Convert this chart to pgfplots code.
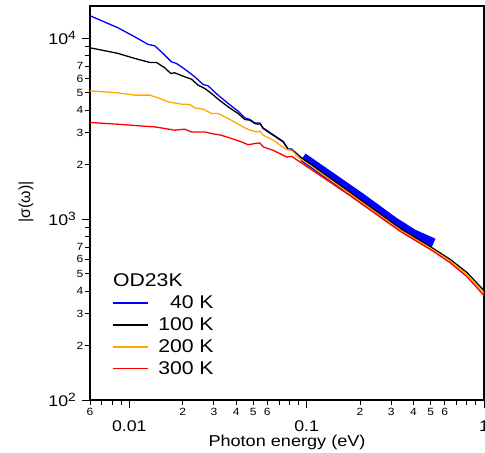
\documentclass[border=0pt]{standalone}
\usepackage{pgfplots}
\pgfplotsset{compat=1.18}
\usepackage{fontspec}
\setmainfont{Liberation Sans}[FakeStretch=1.15]
\newfontfamily\ylabfont{Liberation Sans}
\definecolor{myorange}{RGB}{255,168,0}
\newcommand{\fs}[1]{\fontsize{#1}{#1}\selectfont}
\newcommand{\tenp}[1]{10\raisebox{5bp}{\fs{12}#1}}
\begin{document}
\begin{tikzpicture}
\begin{axis}[
  scale only axis, width=394bp, height=394bp,
  xmode=log, ymode=log,
  xmin=0.006, xmax=1, ymin=100, ymax=15100,
  tick pos=left, tick align=outside,
  axis line style={line width=1.1bp},
  every tick/.style={black, line width=0.9bp},
  major tick length=5bp, minor tick length=5bp,
  /pgf/number format/assume math mode=true,
  xtick={0.006,0.02,0.03,0.04,0.05,0.06,0.2,0.3,0.4,0.5,0.6},
  xticklabels={6,2,3,4,5,6,2,3,4,5,6},
  minor xtick={0.007,0.008,0.009,0.07,0.08,0.09,0.7,0.8,0.9},
  ytick={200,300,400,500,600,700,2000,3000,4000,5000,6000,7000},
  yticklabels={2,3,4,5,6,7,2,3,4,5,6,7},
  minor ytick={800,900,8000,9000},
  xticklabel style={font=\fs{10.5}, anchor=center, inner sep=0pt, yshift=-6.7bp},
  yticklabel style={font=\fs{10.5}, anchor=east, inner sep=0pt, xshift=-1.5bp},
  extra x ticks={0.01,0.1,1},
  extra x tick labels={0.01,0.1,1},
  extra x tick style={major tick length=8bp, xticklabel style={font=\fs{15.5}, yshift=-11.1bp}},
  extra y ticks={100,1000,10000},
  extra y tick labels={\tenp{2},\tenp{3},\tenp{4}},
  extra y tick style={major tick length=8bp, yticklabel style={font=\fs{15.5}, xshift=-4.5bp}},
  xlabel={Photon energy (eV)},
  xlabel style={font=\fs{15.8}, at={(axis description cs:0.5,0)}, anchor=center, yshift=-42.3bp},
  ylabel={\ylabfont |σ(ω)|},
  ylabel style={font=\fs{16}, at={(axis description cs:-0.1624,0.5025)}, anchor=center},
  legend cell align=right,
  legend style={draw=none, fill=none, at={(rel axis cs:0.0558,0.3252)}, anchor=north west,
    inner sep=0pt, outer sep=0pt, font=\fs{18.5}, row sep=3.6bp},
  legend image code/.code={\draw[#1,line width=1.3bp] (0bp,0bp) -- (35bp,0bp); \path (43bp,0bp);},
]
\coordinate (sw) at (rel axis cs:0,0);
\coordinate (ne) at (rel axis cs:1,1);
\addlegendimage{empty legend}
\addlegendentry{\makebox[0pt][r]{OD23K\hspace{31bp}}}
% thick blue band
\addplot[blue, line width=9bp, forget plot] coordinates {
(0.0953,2200) (0.2,1330) (0.3134,965) (0.4,830) (0.52,740)};
% 40 K
\addplot[color=blue, line width=1.3bp] coordinates {
(0.006,13341) (0.008622,11446) (0.010714,10206) (0.012738,9263) (0.0139,9099)
(0.015484,8259) (0.017272,7418) (0.018432,7268) (0.020535,6760) (0.023389,6127)
(0.026054,5560) (0.027804,5462) (0.031663,4852) (0.036062,4365) (0.041072,3957)
(0.044816,3632) (0.047827,3560) (0.051058,3400) (0.054491,3400) (0.056881,3190)
(0.064766,2930) (0.073742,2690) (0.078697,2440) (0.082257,2440) (0.091664,2220) (0.0953,2160)};
\addlegendentry{40 K}
% 100 K
\addplot[color=black, line width=1.3bp] coordinates {
(0.006,8871) (0.008622,8259) (0.010714,7747) (0.013023,7362) (0.014211,7362)
(0.015831,6873) (0.017115,6398) (0.018029,6448) (0.020535,6127) (0.022404,5950)
(0.024414,5511) (0.026636,5284) (0.029061,4956) (0.031663,4612) (0.036062,4180)
(0.041072,3842) (0.044816,3559) (0.047827,3527) (0.051058,3381) (0.053298,3352)
(0.054491,3381) (0.056881,3173) (0.064766,2912) (0.073742,2674) (0.078697,2427)
(0.082257,2427) (0.091664,2207) (0.10439,2029) (0.1756,1408) (0.3366,889)
(0.517,689) (0.645,599) (0.8015,507) (1.0,403)};
\addlegendentry{100 K}
% 200 K
\addplot[color=myorange, line width=1.3bp] coordinates {
(0.006,5124) (0.008622,4994) (0.010714,4852) (0.013023,4852) (0.014510,4689)
(0.016525,4456) (0.019672,4326) (0.021914,4310) (0.023389,4127) (0.026054,4059)
(0.029061,3842) (0.031663,3842) (0.036062,3604) (0.041072,3360) (0.044816,3200)
(0.047827,3110) (0.052199,3038) (0.054491,3066) (0.056881,2912) (0.064766,2733)
(0.077077,2427) (0.082257,2405) (0.091664,2163) (0.10439,1986) (0.1756,1380)
(0.3366,872) (0.517,675) (0.645,585) (0.8015,494) (1.0,390)};
\addlegendentry{200 K}
% 300 K
\addplot[color=red, line width=1.3bp] coordinates {
(0.006,3425) (0.008622,3352) (0.012738,3256) (0.0139,3239) (0.015831,3173)
(0.018029,3105) (0.020535,3145) (0.022404,3038) (0.026636,3038) (0.029061,2976)
(0.033096,2912) (0.037692,2792) (0.04293,2674) (0.046782,2580) (0.051058,2620)
(0.054491,2640) (0.056881,2509) (0.064766,2405) (0.077077,2207) (0.082257,2226)
(0.091664,2071) (0.10439,1904) (0.1756,1350) (0.3366,857) (0.517,665)
(0.645,574) (0.8015,481) (1.0,378)};
\addlegendentry{300 K}
\end{axis}
\pgfresetboundingbox
\path (sw) ++(-90bp,-53bp) (ne) ++(1bp,6bp);
\end{tikzpicture}
\end{document}
